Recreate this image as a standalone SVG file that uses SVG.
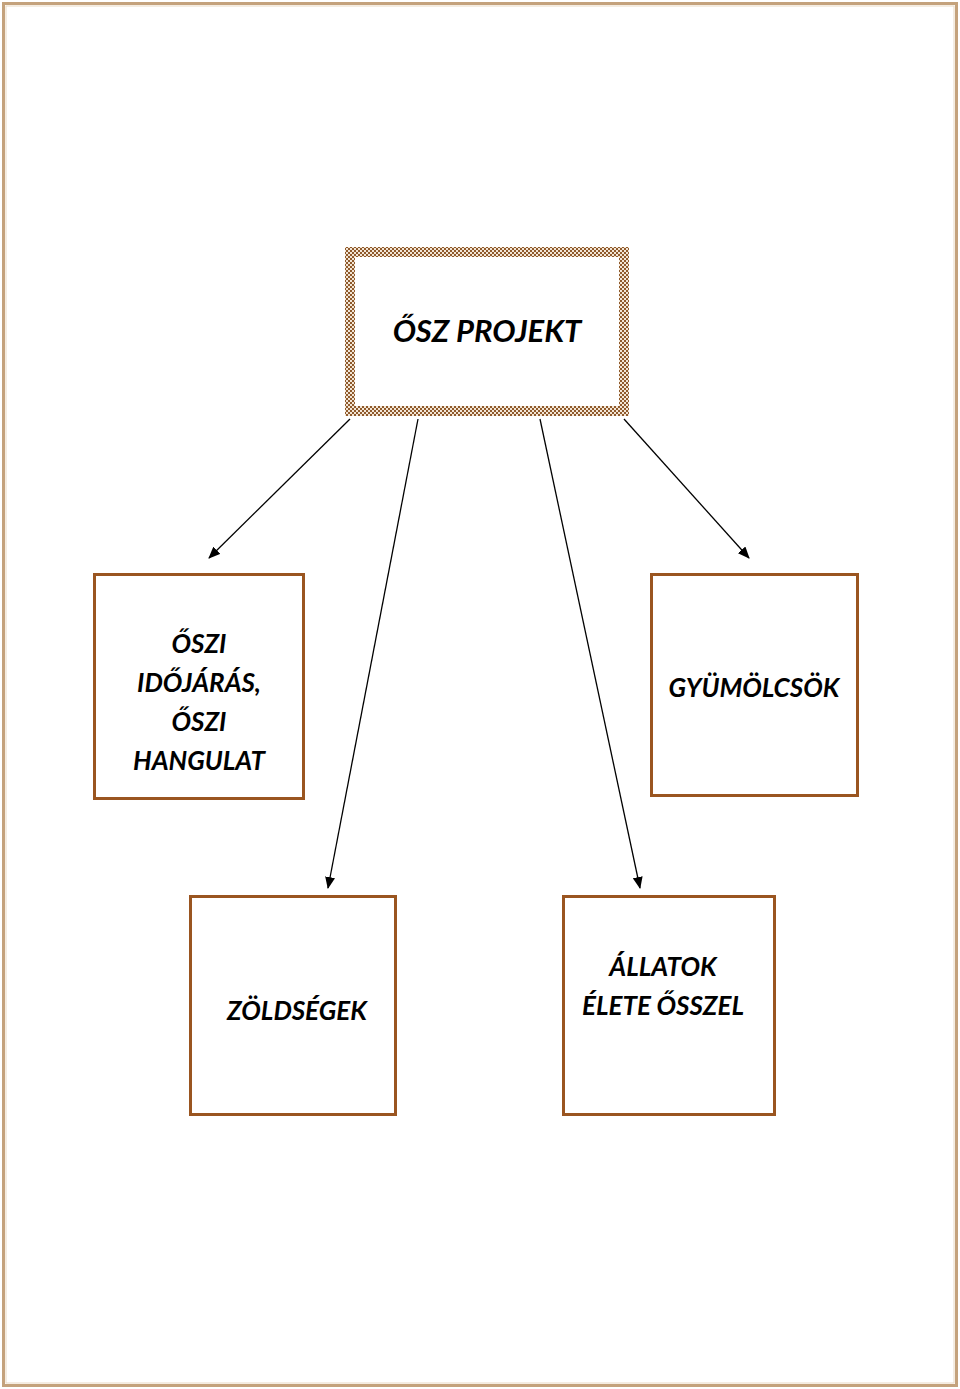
<svg xmlns="http://www.w3.org/2000/svg" width="960" height="1389" viewBox="0 0 960 1389">
<defs>
<pattern id="chk" x="0" y="0" width="4" height="4" patternUnits="userSpaceOnUse">
<rect width="4" height="4" fill="#f3e6d6"/>
<rect width="2" height="2" fill="#8f5a2c"/>
<rect x="2" y="2" width="2" height="2" fill="#8f5a2c"/>
</pattern>
<marker id="ah" markerWidth="12" markerHeight="10" refX="11" refY="5" orient="auto" markerUnits="userSpaceOnUse">
<path d="M0,0 L12,5 L0,10 Z" fill="#000"/>
</marker>
<style>
.box{fill:#fff;stroke:#9a5520;stroke-width:3}
.t{font-family:Lato,"Open Sans","Liberation Sans",sans-serif;font-weight:bold;font-style:italic;fill:#000;text-anchor:middle;font-size:26px}
.c{stroke:#000;stroke-width:1.3;fill:none;marker-end:url(#ah)}
</style>
</defs>
<rect width="960" height="1389" fill="#fff"/>
<rect x="3.5" y="3.5" width="953" height="1382" fill="none" stroke="#c4a27c" stroke-width="3"/>
<rect x="6" y="6" width="948" height="1377" fill="none" stroke="#e9d9c4" stroke-width="1"/>

<g id="top">
<rect x="345" y="247" width="284" height="169" fill="url(#chk)"/>
<rect x="355" y="257" width="264" height="149" fill="#fff"/>
<text class="t" x="487" y="342" style="font-size:31px">ŐSZ PROJEKT</text>
</g>

<g id="n1">
<rect class="box" x="94.5" y="574.5" width="209" height="224"/>
<text class="t" x="199" y="653">ŐSZI</text>
<text class="t" x="199" y="692">IDŐJÁRÁS,</text>
<text class="t" x="199" y="731">ŐSZI</text>
<text class="t" x="199" y="770">HANGULAT</text>
</g>

<g id="n2">
<rect class="box" x="651.5" y="574.5" width="206" height="221"/>
<text class="t" x="754" y="697">GYÜMÖLCSÖK</text>
</g>

<g id="n3">
<rect class="box" x="190.5" y="896.5" width="205" height="218"/>
<text class="t" x="297" y="1020">ZÖLDSÉGEK</text>
</g>

<g id="n4">
<rect class="box" x="563.5" y="896.5" width="211" height="218"/>
<text class="t" x="663" y="976">ÁLLATOK</text>
<text class="t" x="663" y="1015">ÉLETE ŐSSZEL</text>
</g>

<g id="connectors">
<line class="c" x1="350" y1="419" x2="209" y2="558"/>
<line class="c" x1="418" y1="419" x2="328" y2="888"/>
<line class="c" x1="540" y1="419" x2="640" y2="888"/>
<line class="c" x1="624" y1="419" x2="749" y2="558"/>
</g>
</svg>
